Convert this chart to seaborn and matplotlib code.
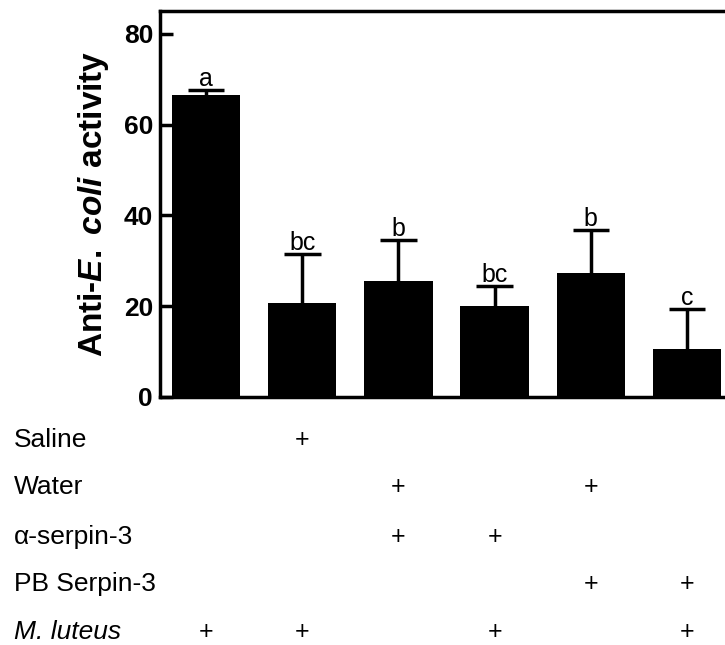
import matplotlib

matplotlib.use("Agg")
import matplotlib.pyplot as plt
import matplotlib.transforms as mtransforms
import pandas as pd
import seaborn as sns

groups = ["G1", "G2", "G3", "G4", "G5", "G6"]
activity = [66.5, 20.8, 25.6, 20.1, 27.3, 10.5]
err_upper = [1.1, 10.6, 9.0, 4.4, 9.5, 8.8]
letters = ["a", "bc", "b", "bc", "b", "c"]

row_labels = ["Saline", "Water", "\u03b1-serpin-3", "PB Serpin-3", "M. luteus"]
row_marks = [
    [0, 1, 0, 0, 0, 0],
    [0, 0, 1, 0, 1, 0],
    [0, 0, 1, 1, 0, 0],
    [0, 0, 0, 0, 1, 1],
    [1, 1, 0, 1, 0, 1],
]
row_y = [440, 487, 537, 584, 632]

sns.set_style("white")
plt.rcParams["font.family"] = ["Liberation Sans", "DejaVu Sans"]
plt.rcParams["text.color"] = "black"
plt.rcParams["axes.labelcolor"] = "black"
plt.rcParams["ytick.color"] = "black"
plt.rcParams["mathtext.fontset"] = "custom"
plt.rcParams["mathtext.rm"] = "Liberation Sans:bold"
plt.rcParams["mathtext.it"] = "Liberation Sans:italic:bold"

W, H = 725, 645
fig = plt.figure(figsize=(W / 100, H / 100), dpi=100)
ax = fig.add_axes([160 / W, 1 - 397 / H, (735 - 160) / W, (397 - 11) / H])

df = pd.DataFrame({"group": groups, "activity": activity})
sns.barplot(data=df, x="group", y="activity", color="black", width=0.71,
            linewidth=0, saturation=1, errorbar=None, ax=ax)
for patch in ax.patches:
    patch.set_facecolor("black")

# upper-only error bars
pos = list(range(len(groups)))
tops = [m + e for m, e in zip(activity, err_upper)]
ax.vlines(pos, activity, tops, color="black", linewidth=2.5, zorder=3)
ax.hlines(tops, [p - 0.19 for p in pos], [p + 0.19 for p in pos],
          color="black", linewidth=2.5, zorder=3)
for x, t, lab in zip(pos, tops, letters):
    ax.annotate(lab, (x, t), xytext=(0, 3), textcoords="offset points",
                ha="center", va="baseline", fontsize=18)

ax.set_xlim(-0.48, 5.5)
ax.set_ylim(0, 85)
ax.set_yticks([0, 20, 40, 60, 80])
ax.set_xticks([])
ax.set_xlabel("")
ax.set_ylabel(r"Anti-$\mathit{E.}$ $\mathit{coli}$ activity", fontsize=24, fontweight="bold")
ax.yaxis.set_label_coords(-0.085, 0.5)
ax.tick_params(axis="y", direction="in", length=9, width=2.5, pad=5, labelsize=19, left=True)
for t in ax.get_yticklabels():
    t.set_fontweight("bold")
for s in ax.spines.values():
    s.set_linewidth(2.5)
    s.set_color("black")

trans = mtransforms.blended_transform_factory(ax.transData, fig.transFigure)
for lab, marks, y in zip(row_labels, row_marks, row_y):
    fy = 1 - y / H
    fig.text(14 / W, fy, lab, fontsize=19, va="center", ha="left",
             fontstyle="italic" if lab == "M. luteus" else "normal")
    for x, m in zip(pos, marks):
        if m:
            ax.text(x, fy, "+", transform=trans, fontsize=18, ha="center",
                    va="center", clip_on=False)

fig.savefig("out.png", dpi=100)
